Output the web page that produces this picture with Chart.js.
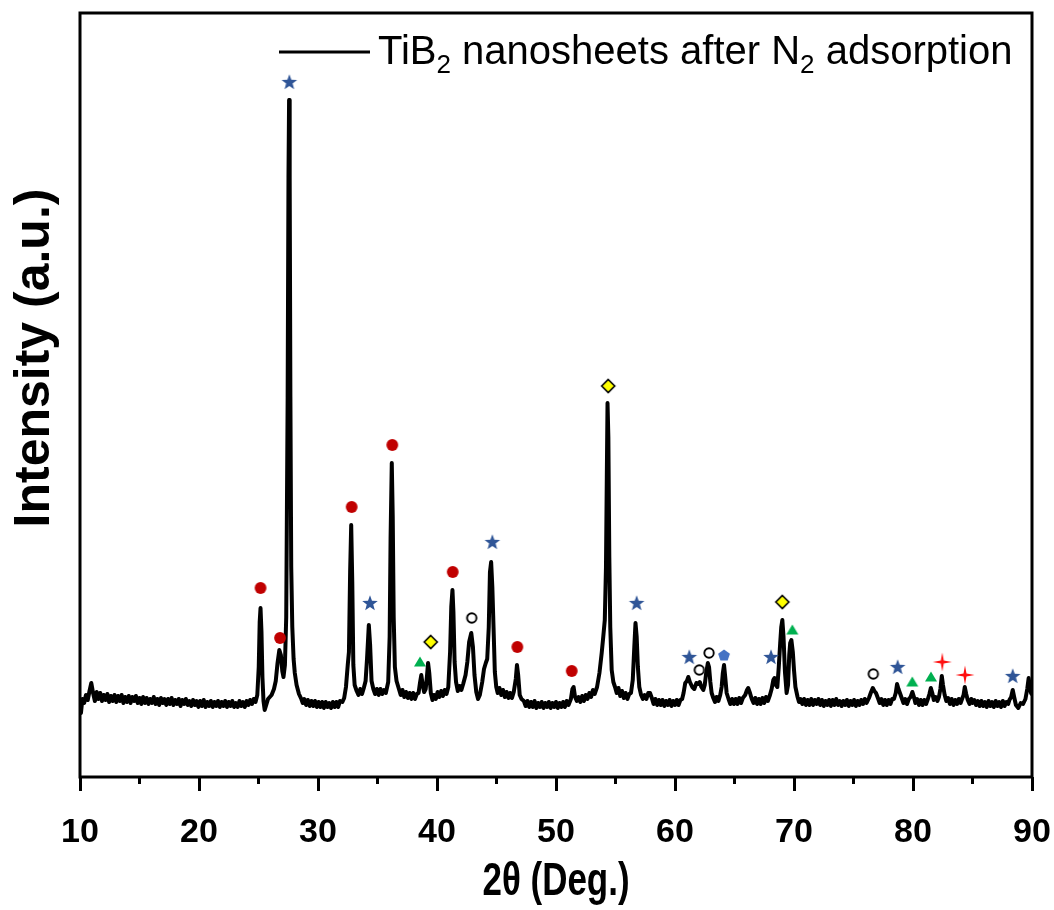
<!DOCTYPE html>
<html>
<head>
<meta charset="utf-8">
<script src="https://cdn.jsdelivr.net/npm/chart.js@4.4.1/dist/chart.umd.min.js"></script>
<style>
  html, body { margin: 0; padding: 0; background: #fff; }
  #wrap { width: 1054px; height: 910px; }
</style>
</head>
<body>
<div id="wrap"><canvas id="xrdChart" width="1054" height="910"></canvas></div>
<script>
// XRD scan, [2theta, intensity]
const scanPoints = [
  [10.0,70],[10.08,64],[10.2,78],[10.35,74],[10.5,82],[10.65,77],[10.8,86],[10.95,94],[11.1,84],
  [11.25,76],[11.4,85],[11.55,78],[11.7,84],[11.85,76],[12.0,82],[12.15,77],[12.3,83],[12.45,75],[12.6,81],
  [12.75,76],[12.9,82],[13.05,75],[13.2,81],[13.35,76],[13.5,82],[13.65,74],[13.8,80],[13.95,75],[14.1,81],
  [14.25,74],[14.4,80],[14.55,76],[14.7,81],[14.85,74],[15.0,79],[15.15,73],[15.3,80],[15.45,74],[15.6,79],
  [15.75,73],[15.9,78],[16.05,74],[16.2,80],[16.35,73],[16.5,78],[16.65,72],[16.8,79],[16.95,74],[17.1,78],
  [17.25,72],[17.4,78],[17.55,73],[17.7,79],[17.85,72],[18.0,77],[18.15,73],[18.3,78],[18.45,71],[18.6,77],
  [18.75,73],[18.9,78],[19.05,72],[19.2,76],[19.35,71],[19.5,77],[19.65,72],[19.8,76],[19.95,70],[20.1,76],
  [20.25,71],[20.4,77],[20.55,70],[20.7,75],[20.85,71],[21.0,76],[21.15,70],[21.3,75],[21.45,71],[21.6,76],
  [21.75,70],[21.9,75],[22.05,71],[22.2,76],[22.35,70],[22.5,75],[22.65,71],[22.8,76],[22.95,70],[23.1,74],
  [23.25,70],[23.4,76],[23.55,71],[23.7,75],[23.85,70],[24.0,76],[24.15,72],[24.3,77],[24.45,73],[24.6,78],
  [24.75,75],[24.9,82],[25.02,110],[25.1,155],[25.17,169],[25.25,145],[25.33,100],[25.42,76],[25.52,67],[25.65,72],
  [25.8,78],[25.95,80],[26.1,82],[26.3,88],[26.45,96],[26.6,114],[26.75,127],[26.88,122],[27.0,106],[27.1,100],
  [27.22,112],[27.33,160],[27.45,380],[27.52,600],[27.57,677],[27.62,600],[27.68,380],[27.75,210],[27.84,150],[27.95,118],
  [28.05,104],[28.2,92],[28.4,83],[28.6,78],[28.72,74],[28.85,78],[29.0,72],[29.15,77],[29.3,71],[29.45,76],
  [29.6,71],[29.75,76],[29.9,70],[30.05,75],[30.2,70],[30.35,75],[30.5,69],[30.65,75],[30.8,70],[30.95,74],
  [31.1,69],[31.25,75],[31.4,70],[31.55,75],[31.7,70],[31.85,76],[32.05,75],[32.2,79],[32.35,90],[32.5,112],
  [32.6,125],[32.7,205],[32.79,252],[32.88,195],[32.97,112],[33.08,92],[33.25,86],[33.4,82],[33.55,88],[33.7,83],
  [33.85,89],[34.0,96],[34.12,118],[34.27,152],[34.38,132],[34.5,96],[34.65,88],[34.8,83],[34.95,88],[35.1,82],
  [35.25,88],[35.4,83],[35.55,87],[35.7,84],[35.9,95],[36.02,140],[36.1,240],[36.2,314],[36.28,260],[36.36,160],
  [36.46,110],[36.6,96],[36.8,88],[36.95,82],[37.1,87],[37.25,80],[37.4,85],[37.55,79],[37.7,84],[37.85,78],
  [38.0,84],[38.15,78],[38.3,83],[38.45,84],[38.58,95],[38.68,102],[38.8,92],[38.92,85],[39.05,88],[39.15,100],
  [39.25,114],[39.35,104],[39.48,84],[39.62,77],[39.75,82],[39.9,78],[40.05,85],[40.2,80],[40.35,86],[40.5,81],
  [40.65,87],[40.8,83],[40.95,90],[41.1,125],[41.2,170],[41.3,187],[41.38,165],[41.48,115],[41.6,95],[41.75,86],
  [41.9,91],[42.05,87],[42.2,93],[42.4,102],[42.55,115],[42.7,135],[42.88,144],[43.02,130],[43.15,102],[43.3,85],
  [43.45,78],[43.6,82],[43.8,95],[43.95,108],[44.1,114],[44.22,118],[44.35,150],[44.45,205],[44.55,215],[44.65,190],
  [44.75,150],[44.86,105],[44.98,90],[45.1,84],[45.25,89],[45.4,82],[45.55,87],[45.7,80],[45.85,85],[46.0,79],
  [46.15,84],[46.3,79],[46.45,85],[46.62,98],[46.72,112],[46.82,102],[46.95,82],[47.1,78],[47.3,76],[47.45,71],
  [47.6,76],[47.75,70],[47.9,75],[48.05,70],[48.2,76],[48.35,69],[48.5,74],[48.65,70],[48.8,75],[48.95,69],
  [49.1,74],[49.25,70],[49.4,75],[49.55,69],[49.7,74],[49.85,70],[50.0,75],[50.15,69],[50.3,74],[50.45,70],
  [50.6,75],[50.75,70],[50.9,76],[51.05,72],[51.25,78],[51.38,88],[51.48,90],[51.6,80],[51.75,76],[51.9,80],
  [52.05,75],[52.2,81],[52.35,76],[52.5,82],[52.65,78],[52.8,84],[52.95,80],[53.1,87],[53.25,83],[53.45,90],
  [53.65,104],[53.84,124],[53.97,140],[54.1,157],[54.2,210],[54.27,300],[54.33,374],[54.4,340],[54.48,220],[54.56,150],
  [54.68,107],[54.82,95],[54.96,90],[55.1,84],[55.25,89],[55.4,81],[55.55,86],[55.7,79],[55.85,84],[56.0,78],
  [56.15,83],[56.3,84],[56.45,97],[56.58,130],[56.68,154],[56.78,140],[56.88,110],[57.0,90],[57.15,82],[57.3,78],
  [57.45,82],[57.6,78],[57.75,84],[57.9,84],[58.05,79],[58.2,73],[58.35,78],[58.5,72],[58.65,77],[58.8,72],
  [58.95,77],[59.1,71],[59.25,76],[59.4,72],[59.55,77],[59.7,71],[59.85,76],[60.0,72],[60.15,77],[60.3,72],
  [60.45,77],[60.6,78],[60.72,84],[60.86,94],[61.0,96],[61.12,100],[61.25,95],[61.45,90],[61.62,88],[61.8,94],
  [61.95,93],[62.08,95],[62.22,90],[62.38,87],[62.5,92],[62.62,104],[62.76,114],[62.86,110],[62.97,95],[63.08,84],
  [63.22,79],[63.36,75],[63.5,80],[63.65,76],[63.8,82],[63.92,90],[64.02,104],[64.12,112],[64.22,100],[64.34,84],
  [64.5,78],[64.65,73],[64.8,78],[64.95,73],[65.1,78],[65.25,73],[65.4,79],[65.55,74],[65.7,79],[65.9,82],
  [66.05,87],[66.15,89],[66.3,84],[66.45,78],[66.6,74],[66.75,79],[66.9,73],[67.05,78],[67.2,73],[67.35,79],
  [67.5,74],[67.65,80],[67.8,76],[67.98,82],[68.12,88],[68.26,97],[68.36,99],[68.48,92],[68.6,90],[68.72,110],
  [68.84,134],[68.93,150],[69.02,157],[69.12,140],[69.24,105],[69.38,84],[69.5,92],[69.6,122],[69.68,134],[69.78,137],
  [69.9,125],[70.0,107],[70.12,90],[70.3,80],[70.42,75],[70.55,78],[70.7,73],[70.85,78],[71.0,72],[71.15,77],
  [71.3,72],[71.45,78],[71.6,72],[71.75,77],[71.9,73],[72.05,78],[72.2,72],[72.35,77],[72.5,71],[72.65,76],
  [72.8,72],[72.95,77],[73.1,71],[73.25,77],[73.4,72],[73.55,78],[73.7,72],[73.85,76],[74.0,71],[74.15,76],
  [74.3,72],[74.45,77],[74.6,71],[74.75,76],[74.9,72],[75.05,77],[75.2,71],[75.35,76],[75.5,72],[75.65,77],
  [75.8,73],[75.95,78],[76.1,74],[76.3,79],[76.48,85],[76.62,89],[76.75,86],[76.89,84],[77.05,79],[77.2,74],
  [77.35,78],[77.5,72],[77.65,77],[77.8,72],[77.95,77],[78.1,73],[78.25,78],[78.4,78],[78.55,84],[78.66,93],
  [78.78,88],[78.9,84],[79.05,79],[79.2,74],[79.35,78],[79.5,73],[79.65,78],[79.8,80],[79.95,85],[80.08,80],
  [80.2,74],[80.35,78],[80.5,72],[80.65,77],[80.8,72],[80.95,77],[81.1,73],[81.25,78],[81.38,83],[81.5,89],
  [81.62,84],[81.75,77],[81.9,80],[82.05,76],[82.18,80],[82.3,88],[82.42,101],[82.52,92],[82.66,82],[82.8,76],
  [82.95,79],[83.1,73],[83.25,78],[83.4,72],[83.55,77],[83.7,73],[83.85,78],[84.0,74],[84.12,78],[84.25,82],
  [84.35,90],[84.47,83],[84.6,77],[84.75,73],[84.9,78],[85.0,74],[85.15,77],[85.3,72],[85.45,76],[85.6,71],
  [85.75,76],[85.9,71],[86.05,75],[86.2,70],[86.35,76],[86.5,71],[86.65,75],[86.8,70],[86.95,76],[87.1,71],
  [87.25,75],[87.4,70],[87.55,76],[87.7,71],[87.85,75],[88.0,73],[88.1,77],[88.25,80],[88.38,87],[88.5,80],
  [88.65,72],[88.85,69],[89.05,74],[89.25,73],[89.45,78],[89.6,88],[89.72,99],[89.82,90],[89.92,84],[90.0,82]
];

// phase markers, [2theta, marker height]
const starPeaks = [[27.59,695],[34.37,174],[44.65,235],[56.78,174],[61.20,120],[68.07,120],[78.71,110],[88.38,101]];
const redDotPeaks = [[25.17,189],[26.81,139],[32.83,270],[36.24,332],[41.32,205],[46.75,130],[51.32,106]];
const openCirclePeaks = [[42.92,159],[62.04,107],[62.86,124],[76.66,103]];
const trianglePeaks = [[38.57,115],[69.86,147],[79.94,95],[81.51,100]];
const diamondPeaks = [[39.47,135],[54.39,391],[69.02,175]];
const pentagonPeaks = [[64.12,122]];
const crossPeaks = [[82.46,115],[84.37,102]];

const minorTicks = [15, 25, 35, 45, 55, 65, 75, 85];
const legendParts = [['TiB', false], ['2', true], [' nanosheets after N', false], ['2', true], [' adsorption', false]];
const xTitle = '2\u03b8 (Deg.)';
const yTitle = 'Intensity (a.u.)';

const toXY = arr => arr.map(p => ({ x: p[0], y: p[1] }));

// marker images
function markerCanvas(size, draw) {
    const c = document.createElement('canvas');
    c.width = size;
    c.height = size;
    const g = c.getContext('2d');
    draw(g, size / 2);
    return c;
}

function polyStar(g, cx, cy, n, rOut, rIn, rot) {
    g.beginPath();
    for (let i = 0; i < n * 2; i++) {
        const r = i % 2 === 0 ? rOut : rIn;
        const a = rot + i * Math.PI / n;
        const px = cx + r * Math.cos(a);
        const py = cy + r * Math.sin(a);
        if (i === 0) g.moveTo(px, py); else g.lineTo(px, py);
    }
    g.closePath();
}

const starImg = markerCanvas(20, (g, c) => {
    polyStar(g, c, c + 0.5, 5, 8.2, 3.4, -Math.PI / 2);
    g.fillStyle = '#2f5597';
    g.fill();
});
const redDotImg = markerCanvas(16, (g, c) => {
    g.beginPath();
    g.arc(c, c, 5.9, 0, Math.PI * 2);
    g.fillStyle = '#c00000';
    g.fill();
});
const openCircleImg = markerCanvas(16, (g, c) => {
    g.beginPath();
    g.arc(c, c, 4.7, 0, Math.PI * 2);
    g.fillStyle = '#fff';
    g.fill();
    g.lineWidth = 1.9;
    g.strokeStyle = '#000';
    g.stroke();
});
const triangleImg = markerCanvas(16, (g, c) => {
    g.beginPath();
    g.moveTo(c, c - 5.5);
    g.lineTo(c + 6, c + 4.5);
    g.lineTo(c - 6, c + 4.5);
    g.closePath();
    g.fillStyle = '#00b050';
    g.fill();
});
const diamondImg = markerCanvas(18, (g, c) => {
    g.beginPath();
    g.moveTo(c, c - 6.5);
    g.lineTo(c + 6.5, c);
    g.lineTo(c, c + 6.5);
    g.lineTo(c - 6.5, c);
    g.closePath();
    g.fillStyle = '#ffff00';
    g.fill();
    g.lineWidth = 1.6;
    g.strokeStyle = '#000';
    g.stroke();
});
const pentagonImg = markerCanvas(16, (g, c) => {
    g.beginPath();
    for (let i = 0; i < 5; i++) {
        const a = -Math.PI / 2 + i * 2 * Math.PI / 5;
        const px = c + 6.2 * Math.cos(a);
        const py = c + 0.6 + 6.2 * Math.sin(a);
        if (i === 0) g.moveTo(px, py); else g.lineTo(px, py);
    }
    g.closePath();
    g.fillStyle = '#4472c4';
    g.fill();
});
const crossImg = markerCanvas(24, (g, c) => {
    polyStar(g, c, c, 4, 9.5, 2.1, -Math.PI / 2);
    g.fillStyle = '#ff1010';
    g.fill();
});

function markerSet(points, img) {
    return {
        data: toXY(points),
        showLine: false,
        pointStyle: img,
        pointRadius: 8,
        pointHoverRadius: 8,
        clip: false,
        order: 0
    };
}

// frame, minor ticks, legend and axis titles
const decorPlugin = {
    id: 'decor',
    afterDraw(chart) {
        const { ctx, chartArea: a, scales: { x } } = chart;
        ctx.save();
        ctx.strokeStyle = '#000';
        ctx.lineWidth = 3;
        ctx.strokeRect(a.left, a.top, a.right - a.left, a.bottom - a.top);

        minorTicks.forEach(v => {
            const px = x.getPixelForValue(v);
            ctx.beginPath();
            ctx.moveTo(px, a.bottom);
            ctx.lineTo(px, a.bottom + 7);
            ctx.stroke();
        });

        // legend
        const lx = a.left + 199;
        const ly = a.top + 39;
        ctx.lineWidth = 3;
        ctx.beginPath();
        ctx.moveTo(lx, ly);
        ctx.lineTo(lx + 91, ly);
        ctx.stroke();

        let tx = lx + 99;
        const base = a.top + 51;
        ctx.fillStyle = '#000';
        ctx.textBaseline = 'alphabetic';
        ctx.textAlign = 'left';
        legendParts.forEach(([txt, sub]) => {
            ctx.font = sub ? '26px "Liberation Sans", Arial, sans-serif' : '40px "Liberation Sans", Arial, sans-serif';
            ctx.fillText(txt, tx, sub ? base + 9 : base);
            tx += ctx.measureText(txt).width;
        });

        // x title, condensed like the original
        ctx.save();
        ctx.translate((a.left + a.right) / 2, 882);
        ctx.scale(0.76, 1);
        ctx.font = 'bold 46px "Liberation Sans", Arial, sans-serif';
        ctx.textAlign = 'center';
        ctx.textBaseline = 'middle';
        ctx.fillText(xTitle, 0, 0);
        ctx.restore();

        // y title
        ctx.translate(35, 358);
        ctx.rotate(-Math.PI / 2);
        ctx.font = 'bold 50px "Liberation Sans", Arial, sans-serif';
        ctx.textAlign = 'center';
        ctx.textBaseline = 'middle';
        ctx.fillText(yTitle, 0, 0);
        ctx.restore();
    }
};

new Chart(document.getElementById('xrdChart'), {
    type: 'scatter',
    data: {
        datasets: [
            {
                data: toXY(scanPoints),
                showLine: true,
                borderColor: '#000',
                borderWidth: 4,
                borderJoinStyle: 'round',
                pointRadius: 0,
                tension: 0,
                order: 1
            },
            markerSet(starPeaks, starImg),
            markerSet(redDotPeaks, redDotImg),
            markerSet(openCirclePeaks, openCircleImg),
            markerSet(trianglePeaks, triangleImg),
            markerSet(diamondPeaks, diamondImg),
            markerSet(pentagonPeaks, pentagonImg),
            markerSet(crossPeaks, crossImg)
        ]
    },
    options: {
        responsive: false,
        animation: false,
        layout: { padding: { left: 80, top: 13, right: 22, bottom: 0 } },
        plugins: {
            legend: { display: false },
            tooltip: { enabled: false }
        },
        scales: {
            x: {
                type: 'linear',
                min: 10,
                max: 90,
                border: { display: false },
                grid: {
                    drawOnChartArea: false,
                    drawTicks: true,
                    tickLength: 14,
                    tickWidth: 3,
                    tickColor: '#000'
                },
                ticks: {
                    stepSize: 10,
                    autoSkip: false,
                    maxRotation: 0,
                    padding: 21,
                    color: '#000',
                    font: { family: "'Liberation Sans', Arial, sans-serif", size: 34, weight: 'bold' },
                    callback: v => String(v)
                },
                title: { display: false },
                afterFit: s => {
                    s.height = 133;
                    s.paddingLeft = 0;
                    s.paddingRight = 0;
                }
            },
            y: {
                display: false,
                min: 0,
                max: 764
            }
        }
    },
    plugins: [decorPlugin]
});
</script>
</body>
</html>
